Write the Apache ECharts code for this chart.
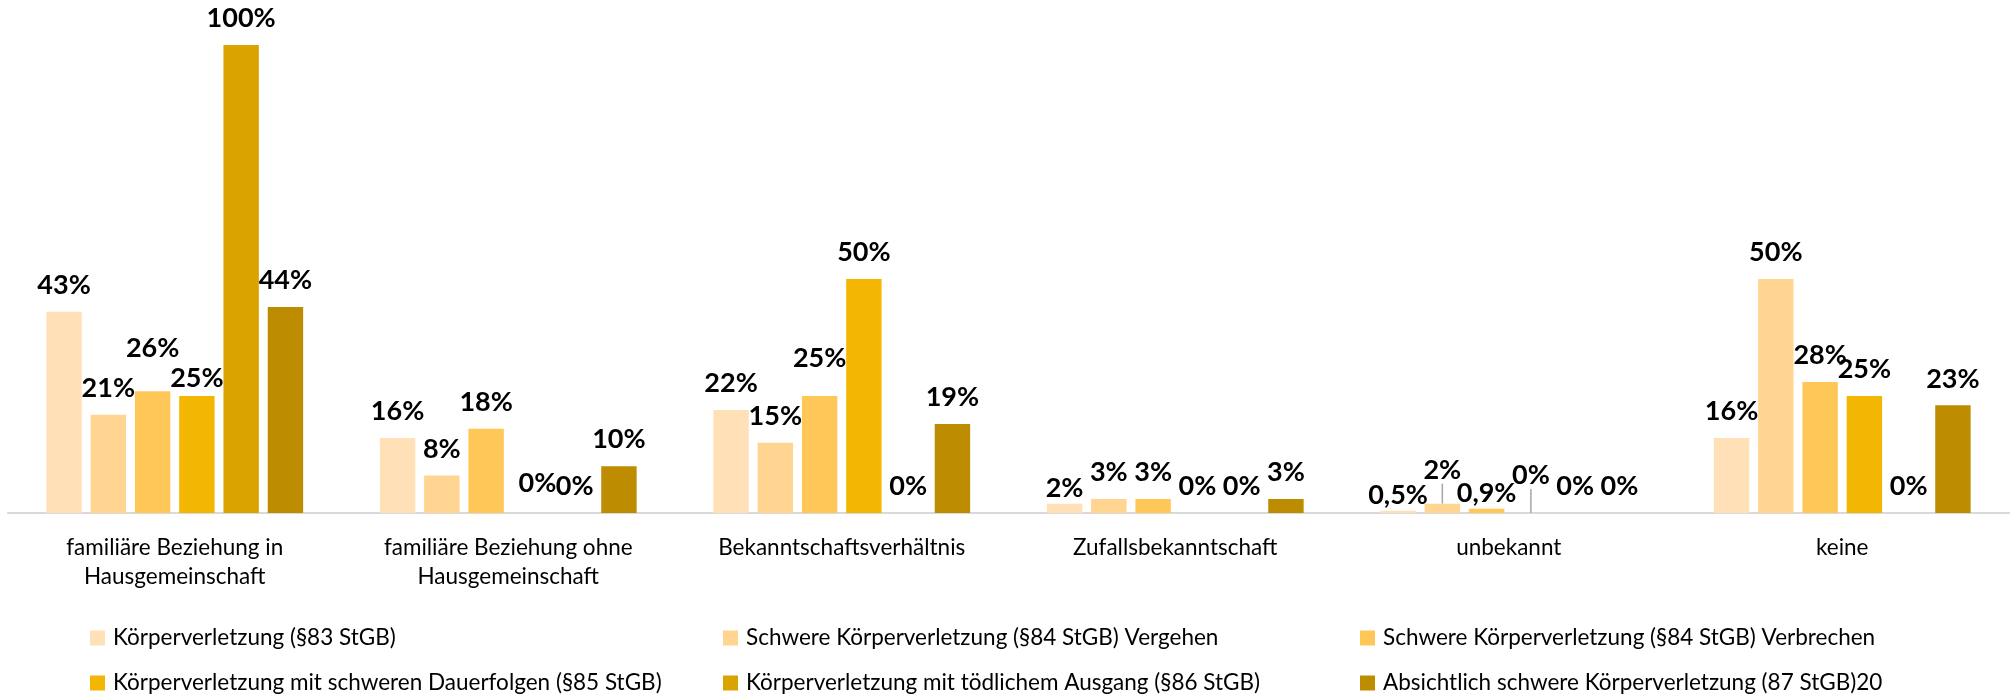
<!DOCTYPE html>
<html>
<head>
<meta charset="utf-8">
<script src="https://cdn.jsdelivr.net/npm/echarts@6/dist/echarts.min.js"></script>
<style>html,body{margin:0;padding:0;background:#fff}#chart{width:2015px;height:697px}</style>
</head>
<body>
<div id="chart"></div>
<script>
const categories = ['familiäre Beziehung in\nHausgemeinschaft', 'familiäre Beziehung ohne\nHausgemeinschaft', 'Bekanntschaftsverhältnis', 'Zufallsbekanntschaft', 'unbekannt', 'keine'];
const seriesNames = [
  'Körperverletzung (§83 StGB)',
  'Schwere Körperverletzung (§84 StGB) Vergehen',
  'Schwere Körperverletzung (§84 StGB) Verbrechen',
  'Körperverletzung mit schweren Dauerfolgen (§85 StGB)',
  'Körperverletzung mit tödlichem Ausgang (§86 StGB)',
  'Absichtlich schwere Körperverletzung (87 StGB)20'
];
const kv83 = [43, 16, 22, 2, 0.5, 16];
const skv84Vergehen = [21, 8, 15, 3, 2, 50];
const skv84Verbrechen = [26, 18, 25, 3, 0.9, 28];
const kv85Dauerfolgen = [25, 0, 50, 0, 0, 25];
const kv86Toedlich = [100, 0, 0, 0, 0, 0];
const kv87Absichtlich = [44, 10, 19, 3, 0, 23];

const allValues = [kv83, skv84Vergehen, skv84Verbrechen, kv85Dauerfolgen, kv86Toedlich, kv87Absichtlich];
const colors = ['#FFE0B7', '#FFD591', '#FFC658', '#F3B602', '#DAA400', '#BD8C00'];
const FONT = "Lato, 'Liberation Sans', sans-serif";

// label adjustments (series-category): up = pixels moved upward
const nudge = {
  '2-0': {up: 17}, '3-0': {up: -9}, '2-2': {up: 11}, '0-3': {up: -11},
  '0-4': {up: -11}, '2-4': {up: -11}, '1-4': {up: 7, line: true}, '3-4': {up: 11, line: true},
  '3-1': {up: 3, dx: 7}
};

const fmt = v => (Number.isInteger(v) ? String(v) : String(v).replace('.', ',')) + '%';

const series = allValues.map((vals, si) => ({
  name: seriesNames[si],
  type: 'bar',
  barCategoryGap: '23%',
  barGap: '25%',
  itemStyle: {color: colors[si]},
  data: vals.map((v, ci) => {
    const n = nudge[si + '-' + ci];
    const d = {value: v};
    if (n && n.line) d.labelLine = {show: true};
    return d;
  }),
  label: {
    show: true, position: 'top', distance: 13,
    fontFamily: FONT, fontSize: 27, fontWeight: 'bold', color: '#000',
    formatter: p => fmt(p.value)
  },
  labelLine: {show: false, lineStyle: {color: '#a6a6a6', width: 1.5}},
  labelLayout: params => {
    const n = nudge[si + '-' + params.dataIndex];
    if (!n) return {};
    return {dy: -(n.up || 0), dx: n.dx || 0};
  }
}));

const legendPos = [[90, 623], [723, 623], [1360, 623], [90, 668], [723, 668], [1360, 668]];
const legends = seriesNames.map((name, i) => ({
  data: [name], left: legendPos[i][0], top: legendPos[i][1],
  icon: 'rect', itemWidth: 15, itemHeight: 15, itemGap: 0, padding: 0,
  selectedMode: false,
  textStyle: {fontFamily: FONT, fontSize: 22.5, color: '#000', lineHeight: 30, padding: [0, 0, 0, 3]}
}));

const chart = echarts.init(document.getElementById('chart'), null, {renderer: 'canvas'});
chart.setOption({
  animation: false,
  color: colors,
  legend: legends,
  grid: {left: 8, right: 6, top: 45, bottom: 184, containLabel: false},
  xAxis: {
    type: 'category', data: categories,
    axisLine: {show: true, lineStyle: {color: '#d9d9d9', width: 2}},
    axisTick: {show: false},
    axisLabel: {fontFamily: FONT, fontSize: 22.5, color: '#000', lineHeight: 29, margin: 20, interval: 0}
  },
  yAxis: {type: 'value', min: 0, max: 100, show: false, splitLine: {show: false}},
  series: series
});
</script>
</body>
</html>
